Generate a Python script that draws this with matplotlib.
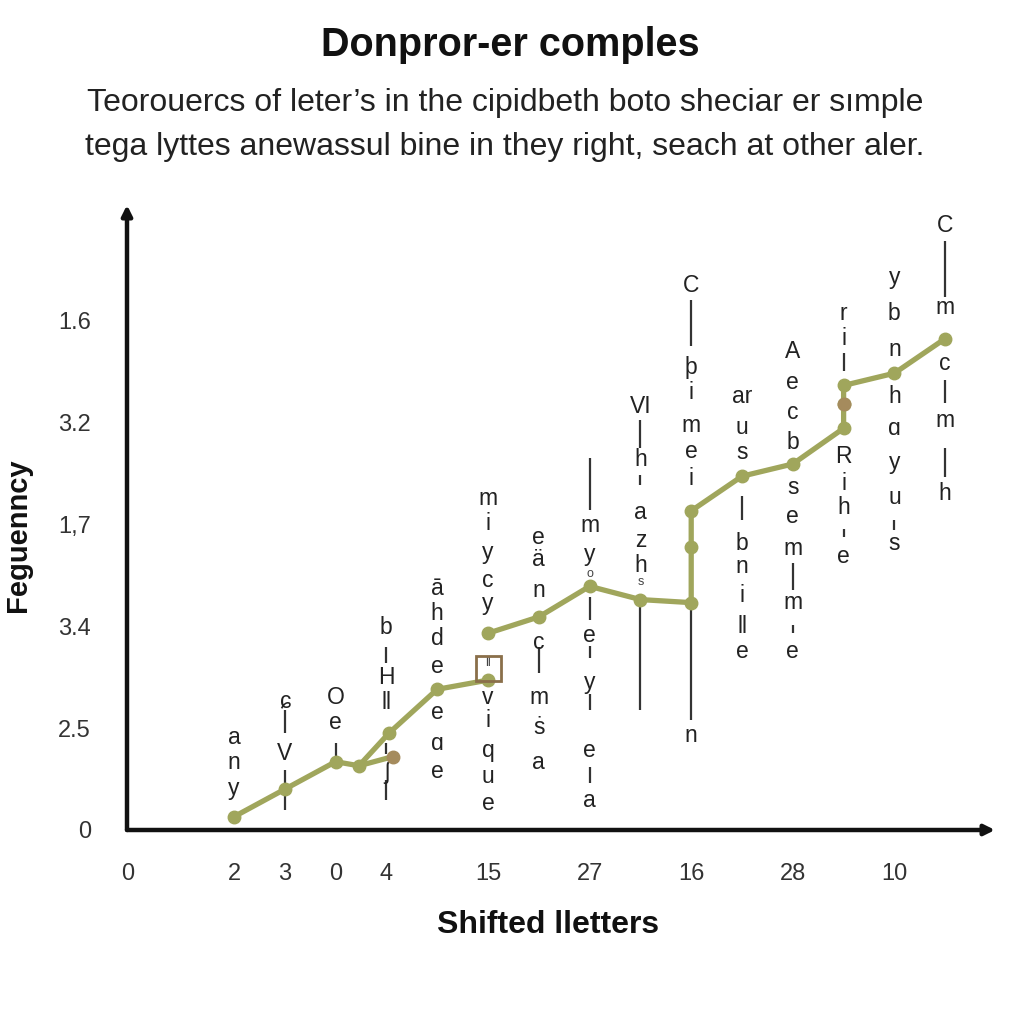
import matplotlib
matplotlib.use("Agg")
import matplotlib.pyplot as plt

# ---- data (x = letter slot index, y = frequency units) ----
seg1_x = [0, 1, 2, 2.46, 3.05, 4, 5]
seg1_y = [0.13, 0.40, 0.67, 0.63, 0.95, 1.38, 1.47]
branch_x = [2.46, 3.13]
branch_y = [0.63, 0.72]
seg2_x = [5, 6, 7, 8, 9, 9, 9, 10, 11, 12, 12, 12, 13, 14]
seg2_y = [1.93, 2.09, 2.39, 2.26, 2.23, 2.78, 3.13, 3.47, 3.59, 3.94, 4.18, 4.36, 4.48, 4.82]
accent_x = [3.13, 12]
accent_y = [0.72, 4.18]
box_x, box_y = 5, 1.59

ytick_pos = [0, 1, 2, 3, 4, 5]
ytick_lab = ["0", "2.5", "3.4", "1,7", "3.2", "1.6"]
xtick_pos = [-2.1, 0, 1, 2, 3, 5, 7, 9, 11, 13]
xtick_lab = ["0", "2", "3", "0", "4", "15", "27", "16", "28", "10"]

col_x = list(range(15))
col_letters = [
    [(0.91, "a"), (0.66, "n"), (0.41, "y")],
    [(1.27, "ɕ"), (0.75, "V")],
    [(1.30, "O"), (1.05, "e")],
    [(1.99, "b"), (1.50, "H"), (1.25, "ll"), (0.56, "ʃ")],
    [(2.37, "ā"), (2.12, "h"), (1.88, "d"), (1.60, "e"), (1.15, "e"), (0.85, "ɑ"), (0.57, "e")],
    [(3.25, "m"), (3.01, "i"), (2.72, "y"), (2.45, "c"), (2.22, "y"), (1.30, "v"), (1.07, "i"),
     (0.78, "q"), (0.52, "u"), (0.26, "e")],
    [(2.87, "e"), (2.65, "ä"), (2.35, "n"), (1.84, "c"), (1.30, "m"), (1.01, "ṡ"), (0.66, "a")],
    [(2.99, "m"), (2.70, "y"), (1.91, "e"), (1.45, "y"), (0.78, "e"), (0.29, "a")],
    [(4.15, "VI"), (3.63, "h"), (3.11, "a"), (2.84, "z"), (2.59, "h")],
    [(5.34, "C"), (4.54, "þ"), (4.29, "i"), (3.97, "m"), (3.71, "e"), (3.45, "i"), (0.93, "n")],
    [(4.25, "ar"), (3.95, "u"), (3.70, "s"), (2.81, "b"), (2.58, "n"), (2.30, "i"), (2.00, "ll"), (1.75, "e")],
    [(4.69, "A"), (4.39, "e"), (4.09, "c"), (3.80, "b"), (3.36, "s"), (3.07, "e"), (2.76, "m"),
     (2.23, "m"), (1.75, "e")],
    [(5.07, "r"), (4.82, "i"), (3.66, "R"), (3.40, "i"), (3.16, "h"), (2.68, "e")],
    [(5.42, "y"), (5.07, "b"), (4.71, "n"), (4.25, "h"), (3.94, "ɑ"), (3.60, "y"), (3.26, "u"), (2.81, "s")],
    [(5.93, "C"), (5.12, "m"), (4.58, "c"), (4.02, "m"), (3.30, "h")],
]
col_rules = [
    [],
    [(0.95, 1.18), (0.20, 0.59)],
    [(0.72, 0.85)],
    [(1.64, 1.79), (0.75, 0.85), (0.29, 0.49)],
    [],
    [],
    [(1.54, 1.79)],
    [(3.14, 3.65), (2.06, 2.29), (1.69, 1.80), (1.18, 1.33), (0.46, 0.62)],
    [(3.75, 4.02), (3.38, 3.48), (1.18, 2.19)],
    [(4.75, 5.20), (1.08, 2.16)],
    [(3.04, 3.28)],
    [(2.35, 2.62), (1.93, 2.01)],
    [(4.50, 4.68), (4.05, 4.12), (2.87, 2.95)],
    [(2.94, 3.04)],
    [(5.23, 5.78), (4.19, 4.41), (3.46, 3.75)],
]
small_marks = [(7, 2.51, "o"), (8, 2.43, "s"), (5, 1.64, "ll")]

GREEN = "#a0a65c"
BROWN = "#a58b5d"
INK = "#222222"
SANS = "Liberation Sans"

fig = plt.figure(figsize=(10.24, 10.24), dpi=100)
fig.patch.set_facecolor("white")
L, R, B, T = 127/1024, 995/1024, 1 - 830/1024, 1 - 205/1024
ax = fig.add_axes([L, B, R - L, T - B])
ax.set_xlim(-2.106, 14.98); ax.set_ylim(0, 6.13)
for s in ax.spines.values(): s.set_visible(False)
ax.annotate("", xy=(0, 1), xytext=(0, 0), xycoords="axes fraction",
            arrowprops=dict(arrowstyle="-|>", lw=3.2, color="#111", mutation_scale=15, shrinkA=0, shrinkB=0))
ax.annotate("", xy=(1, 0), xytext=(0, 0), xycoords="axes fraction",
            arrowprops=dict(arrowstyle="-|>", lw=3.2, color="#111", mutation_scale=15, shrinkA=0, shrinkB=0))

ax.set_yticks(ytick_pos, ytick_lab)
ax.set_xticks(xtick_pos, xtick_lab)
ax.tick_params(axis="y", length=0, pad=26, labelsize=17, labelcolor="#333")
ax.tick_params(axis="x", length=0, pad=24, labelsize=17, labelcolor="#333")
for lab in ax.get_xticklabels() + ax.get_yticklabels():
    lab.set_family(SANS)

# rules + letters
for x, letters, rules in zip(col_x, col_letters, col_rules):
    for y0, y1 in rules:
        ax.plot([x, x], [y0, y1], color="#333", lw=1.6, solid_capstyle="butt", zorder=1)
    for y, s in letters:
        ax.text(x, y, s, ha="center", va="center", fontsize=16.5, color=INK, family=SANS, zorder=2)
for x, y, s in small_marks:
    ax.text(x, y, s, ha="center", va="center", fontsize=9, color="#444", family=SANS, zorder=2)

# lines
ax.plot(seg1_x, seg1_y, color=GREEN, lw=3.8, marker="o", ms=9, zorder=3)
ax.plot(branch_x, branch_y, color=GREEN, lw=3.8, zorder=3)
ax.plot(seg2_x, seg2_y, color=GREEN, lw=3.8, marker="o", ms=9, zorder=3)
ax.plot(accent_x, accent_y, ls="none", marker="o", ms=9, color=BROWN, zorder=4)
ax.plot([box_x], [box_y], ls="none", marker="s", ms=18, mfc="none", mec="#8a6f4a", mew=2, zorder=4)

fig.text(0.498, 1 - 45/1024, "Donpror-er comples", ha="center", va="center",
         fontsize=28.5, fontweight="bold", color="#111", family=SANS)
fig.text(0.493, 1 - 103/1024, "Teorouercs of leter’s in the cipidbeth boto sheciar er sımple",
         ha="center", va="center", fontsize=23, color="#222", family=SANS)
fig.text(0.493, 1 - 147/1024, "tega lyttes anewassul bine in they right, seach at other aler.",
         ha="center", va="center", fontsize=23, color="#222", family=SANS)
fig.text(18/1024, 1 - 535/1024, "Feguenncy", rotation=90, ha="center", va="center",
         fontsize=21, fontweight="bold", color="#111", family=SANS)
fig.text(548/1024, 1 - 925/1024, "Shifted lletters", ha="center", va="center",
         fontsize=23, fontweight="bold", color="#111", family=SANS)

fig.savefig("out.png", dpi=100)
